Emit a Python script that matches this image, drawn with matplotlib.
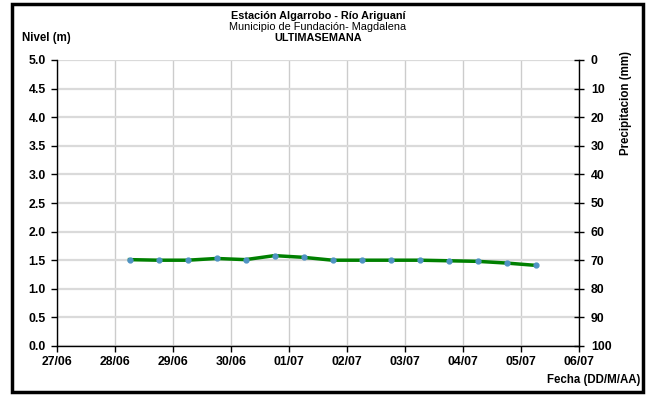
import matplotlib
matplotlib.use("Agg")
import matplotlib.pyplot as plt
from matplotlib.patches import Rectangle
import datetime as dt

plt.rcParams['font.family'] = ['Liberation Sans', 'DejaVu Sans']

# Data
times = [dt.datetime(2023, 6, 28, 6) + dt.timedelta(hours=12 * i) for i in range(15)]
levels = [1.51, 1.50, 1.50, 1.53, 1.51, 1.58, 1.55, 1.50, 1.50, 1.50, 1.50, 1.49, 1.48, 1.45, 1.41]
tick_dates = [dt.datetime(2023, 6, 27) + dt.timedelta(days=d) for d in range(10)]
tick_labels = ["27/06", "28/06", "29/06", "30/06", "01/07", "02/07", "03/07", "04/07", "05/07", "06/07"]
level_ticks = [0.0, 0.5, 1.0, 1.5, 2.0, 2.5, 3.0, 3.5, 4.0, 4.5, 5.0]
precip_ticks = [0, 10, 20, 30, 40, 50, 60, 70, 80, 90, 100]

fig = plt.figure(figsize=(6.53, 3.96), dpi=100)
W, H = 653, 396
ax = fig.add_axes([57 / W, 1 - 346 / H, (579 - 57) / W, (346 - 60) / H])

ax.plot(times, levels, color='#008000', lw=2.5, zorder=3, solid_joinstyle='round')
ax.plot(times, levels, 'o', ms=3.5, color='#4f93c4', mec='#4f93c4', zorder=4)

ax.set_xlim(tick_dates[0], tick_dates[-1])
ax.set_ylim(0, 5)
ax.set_xticks(tick_dates)
ax.set_xticklabels(tick_labels, fontweight='bold', fontsize=8.8)
ax.set_yticks(level_ticks)
ax.set_yticklabels([f"{v:.1f}" for v in level_ticks], fontweight='bold', fontsize=8.8)

ax.grid(axis='y', color='#dadada', lw=1.6, zorder=0)
ax.grid(axis='x', color='#cccccc', lw=1.0, zorder=0)
ax.set_axisbelow(True)
for s in ['top', 'right']:
    ax.spines[s].set_visible(False)
ax.spines['left'].set_linewidth(1.0)
ax.spines['bottom'].set_linewidth(1.0)
ax.tick_params(axis='y', direction='out', length=4, width=1, pad=4)
ax.tick_params(axis='x', direction='out', length=4, width=1, pad=3)

ax2 = ax.twinx()
ax2.set_ylim(100, 0)
ax2.set_yticks(precip_ticks)
ax2.set_yticklabels([str(v) for v in precip_ticks], fontweight='bold', fontsize=8.8)
ax2.tick_params(axis='y', direction='inout', length=7, width=1, pad=5)
for s in ['top', 'left', 'bottom']:
    ax2.spines[s].set_visible(False)
ax2.spines['right'].set_linewidth(1.0)

# Texts
fig.text(318 / W, 1 - 16 / H, "Estación Algarrobo - Río Ariguaní", ha='center', va='center',
         fontsize=7.8, fontweight='bold')
fig.text(318 / W, 1 - 27 / H, "Municipio de Fundación- Magdalena", ha='center', va='center',
         fontsize=7.8)
fig.text(318 / W, 1 - 38 / H, "ULTIMASEMANA", ha='center', va='center',
         fontsize=7.8, fontweight='bold')
fig.text(22 / W, 1 - 38 / H, "Nivel (m)", ha='left', va='center', fontsize=8.3, fontweight='bold')
fig.text(626 / W, 1 - 103 / H, "Precipitacion (mm)", ha='center', va='center', rotation=90,
         fontsize=8.3, fontweight='bold')
fig.text(640 / W, 1 - 380 / H, "Fecha (DD/M/AA)", ha='right', va='center', fontsize=8.3,
         fontweight='bold')

# Frame
fig.patches.append(Rectangle((11.5 / W, 1 - 392 / H), (643 - 11.5) / W, (392 - 3.5) / H,
                             transform=fig.transFigure, fill=False, lw=2.5, ec='black'))

fig.savefig("out.png", dpi=100)
